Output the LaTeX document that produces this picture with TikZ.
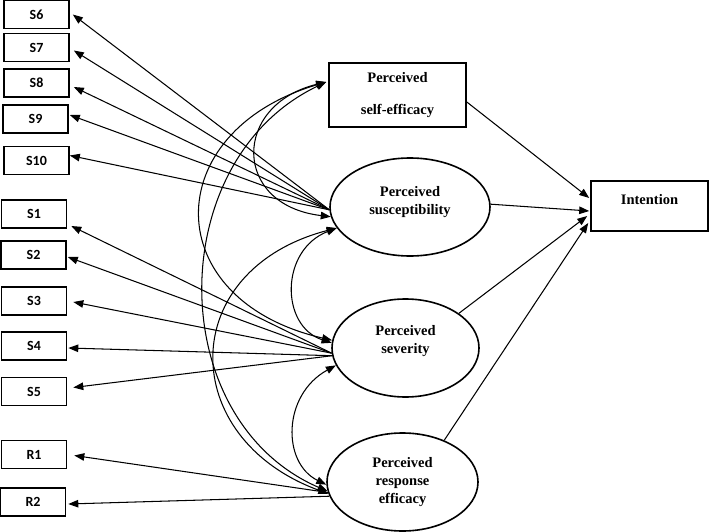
\documentclass[tikz,border=0pt]{standalone}
\usepackage{fontspec}
\setmainfont{Liberation Serif}
\newfontfamily\lblfont{Carlito}
\usetikzlibrary{arrows.meta,calc,shapes.geometric}
\begin{document}
\begin{tikzpicture}[x=1pt,y=-1pt,
  obs/.style={draw,line width=1.6pt,minimum width=65pt,minimum height=28pt,inner sep=0pt,font=\lblfont\bfseries\fontsize{14}{16}\selectfont},
  lat/.style={draw,ellipse,line width=1.6pt,inner sep=0pt,minimum height=98pt},
  sqbox/.style={draw,rectangle,line width=1.6pt,inner sep=0pt,align=center,font=\bfseries\fontsize{14.5}{18}\selectfont},
  txt/.style={inner sep=0pt,align=center,font=\bfseries\fontsize{14.5}{18}\selectfont},
  ar/.style={line width=1.05pt,-{Triangle[length=10pt,width=7.5pt]}},
  cv/.style={line width=1.05pt,{Triangle[length=10pt,width=7.5pt]}-{Triangle[length=10pt,width=7.5pt]}}]
\useasboundingbox (0,0) rectangle (709,532);

% observed indicators
\node[obs] (s6) at (36.5,14.5) {S6};
\node[obs] (s7) at (36.5,47.5) {S7};
\node[obs] (s8) at (36.5,83) {S8};
\node[obs] (s9) at (35.5,119) {S9};
\node[obs] (s10) at (36.5,160.5) {S10};
\node[obs] (s1) at (34,214) {S1};
\node[obs] (s2) at (33.5,255) {S2};
\node[obs] (s3) at (34,301) {S3};
\node[obs] (s4) at (34,346) {S4};
\node[obs] (s5) at (34,391.5) {S5};
\node[obs] (r1) at (34,454.5) {R1};
\node[obs] (r2) at (33,502) {R2};

% constructs
\node[sqbox,minimum width=137pt,minimum height=64pt] (se) at (397.5,95) {Perceived\\[14pt]self-efficacy};
\node[sqbox,minimum width=117pt,minimum height=50pt] (int) at (649.5,206) {};
\node[txt] (intt) at (649.5,200) {Intention};

\node[lat,minimum width=160pt] (su) at (410,207) {};
\node[txt] (sut) at (410,202) {Perceived\\susceptibility};
\node[lat,minimum width=147pt] (sv) at (405.5,348) {};
\node[txt] (svt) at (405.5,341) {Perceived\\severity};
\node[lat,minimum width=151pt] (re) at (402.5,482) {};
\node[txt] (ret) at (402.5,482) {Perceived\\response\\efficacy};

% loadings
\draw[ar] (su.182) -- ($(s6.east)+(3,0)$);
\draw[ar] (su.182) -- ($(s7.east)+(4,3)$);
\draw[ar] (su.182) -- ($(s8.east)+(4,4)$);
\draw[ar] (su.182) -- ($(s9.east)+(1,-4)$);
\draw[ar] (su.182) -- ($(s10.east)+(0,-5)$);
\draw[ar] (sv.184) -- ($(s1.east)+(4,12)$);
\draw[ar] (sv.184) -- ($(s2.east)+(1,2)$);
\draw[ar] (sv.184) -- ($(s3.east)+(6,1)$);
\draw[ar] (sv.186) -- ($(s4.east)+(1,2)$);
\draw[ar] (sv.186) -- ($(s5.east)+(6,-4)$);
\draw[ar] (re.188) -- ($(r1.east)+(7,1)$);
\draw[ar] (re.191) -- ($(r2.east)+(2,2)$);

% paths to intention
\draw[ar] ($(se.east)+(0,7)$) -- ($(int.west)+(-1,-8)$);
\draw[ar] (su.2) -- ($(int.west)+(-1,5)$);
\draw[ar] (sv.33) -- ($(int.west)+(-3,10)$);
\draw[ar] (re.45) -- ($(int.west)+(-2,17)$);

% covariances
\coordinate (sep) at ($(se.west)+(-2,-13)$);
\draw[cv] (sep) .. controls (232,105) and (232,205) .. (su.187);
\draw[cv] (sep) .. controls (158,132) and (158,300) .. (sv.174);
\draw[cv] (sep) .. controls (163,160) and (163,420) .. (re.187);
\draw[cv] (su.196) .. controls (280,250) and (280,326) .. (sv.176);
\draw[cv] (su.196) .. controls (176,270) and (176,438) .. (re.189);
\draw[cv] (sv.194) .. controls (282,395) and (282,463) .. (re.182);
\end{tikzpicture}
\end{document}
